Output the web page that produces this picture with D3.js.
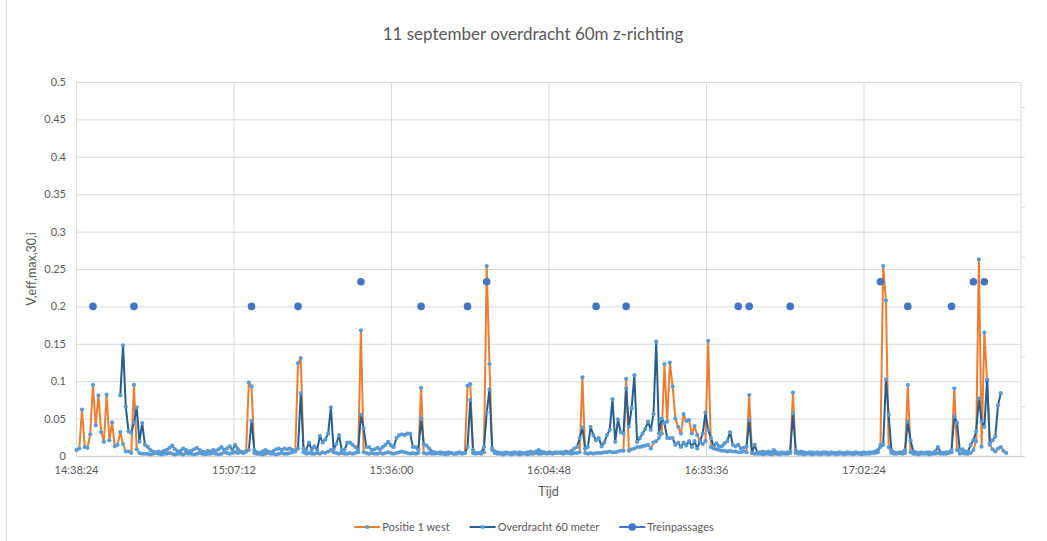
<!DOCTYPE html>
<html>
<head>
<meta charset="utf-8">
<script src="https://cdn.jsdelivr.net/npm/d3@7"></script>
<style>
  html, body { margin: 0; padding: 0; background: #ffffff; }
  svg { display: block; font-family: Lato, "Liberation Sans", sans-serif; }
</style>
</head>
<body>
<svg id="chart" width="1047" height="541"></svg>
<script>
// ---- chart text ----
const chartTitle = "11 september overdracht 60m z-richting";
const yAxisTitle = "V,eff,max,30,i";
const xAxisTitle = "Tijd";
const seriesNames = ["Positie 1 west", "Overdracht 60 meter", "Treinpassages"];

// ---- time base: one sample every 30 seconds ----
const firstSample = "14:38:30";
const sampleSeconds = 30;

// ---- axis ticks ----
const xAxisMin = "14:38:24";
const xAxisMax = "17:31:12";
const xTickLabels = ["14:38:24", "15:07:12", "15:36:00", "16:04:48", "16:33:36", "17:02:24"];
const yTickLabels = ["0", "0.05", "0.1", "0.15", "0.2", "0.25", "0.3", "0.35", "0.4", "0.45", "0.5"];

// ---- Positie 1 west (V,eff,max,30,i per sample) ----
const positie1West = [
  0.008,0.010,0.062,0.012,0.011,0.029,0.095,0.041,0.081,0.032,0.019,0.082,0.021,0.045,0.013,0.015,0.032,0.016,0.006,0.006,0.004,0.095,0.009,0.004,0.003,0.003,
  0.003,0.002,0.003,0.004,0.003,0.002,0.003,0.003,0.004,0.003,0.002,0.003,0.003,0.002,0.004,0.003,0.003,0.002,0.003,0.004,0.003,0.002,0.003,0.003,0.004,0.003,0.002,0.003,0.005,0.004,0.003,0.004,0.005,0.004,0.005,
  0.004,0.006,0.098,0.093,0.004,
  0.003,0.003,0.002,0.003,0.004,0.003,0.003,0.002,0.003,0.004,0.003,0.003,0.004,0.005,0.006,
  0.124,0.131,0.005,
  0.003,0.004,0.003,0.003,0.004,0.003,0.005,0.004,0.006,0.008,0.005,0.004,0.003,0.004,0.003,0.003,0.004,0.003,0.004,0.005,
  0.168,0.005,
  0.004,0.003,0.004,0.003,0.003,0.004,0.003,0.004,0.005,0.004,0.003,0.004,0.005,0.006,0.005,0.004,0.003,0.004,0.003,0.004,
  0.091,0.004,
  0.003,0.004,0.003,0.003,0.004,0.003,0.003,0.002,0.003,0.004,0.003,0.003,0.004,0.003,0.004,
  0.094,0.096,0.004,
  0.003,0.004,0.003,0.005,
  0.254,0.123,0.008,
  0.004,0.003,0.003,0.002,0.003,0.003,0.002,0.003,0.003,0.002,0.003,0.003,0.002,0.003,0.003,0.004,0.003,0.003,0.004,0.003,0.004,0.003,0.004,0.005,0.004,0.003,0.004,0.004,0.003,0.004,
  0.004,0.005,0.105,0.004,
  0.003,0.004,0.003,0.004,0.004,0.004,0.005,0.005,0.006,0.005,0.005,0.006,0.007,
  0.007,0.103,
  0.007,0.009,0.010,0.012,0.012,0.013,0.014,0.015,0.010,0.018,0.020,0.024,0.030,
  0.123,0.046,0.125,0.093,0.050,0.039,0.030,0.056,0.047,0.048,0.030,0.040,0.028,0.020,0.016,0.020,0.154,
  0.012,0.010,0.009,0.008,0.007,0.007,0.006,0.007,0.006,0.006,0.005,0.005,0.006,0.005,
  0.0815,
  0.004,0.003,0.003,0.003,0.002,0.003,0.003,0.002,0.003,0.003,0.002,0.003,0.003,0.003,0.004,
  0.0846,
  0.004,0.003,0.003,0.002,0.003,0.003,0.002,0.003,0.003,0.002,0.003,0.003,0.002,0.003,0.003,0.002,0.003,0.003,0.002,0.003,0.003,0.002,0.003,0.003,0.002,0.003,0.003,0.003,0.004,0.004,0.005,
  0.0147,0.254,0.208,0.012,0.004,
  0.003,0.003,0.004,0.003,0.004,
  0.095,0.005,
  0.003,0.003,0.002,0.003,0.003,0.003,0.002,0.003,0.003,0.004,0.003,0.003,0.003,0.004,0.005,
  0.0905,0.008,
  0.003,0.004,0.003,0.003,0.004,
  0.008,0.020,0.263,0.0125,0.165,0.100,0.015,0.009,0.006,0.010,0.012,0.007,0.004
];

// ---- Overdracht 60 meter (same sample times; null = no measurement) ----
const overdracht60m = [
  null,null,null,null,null,null,null,null,null,null,null,null,null,null,null,null,
  0.081,0.148,0.066,0.033,0.031,0.045,0.065,0.019,0.044,0.015,
  0.0125,0.008,0.006,0.005,0.006,0.005,0.007,0.008,0.011,0.014,0.009,0.006,0.007,0.010,0.008,0.006,0.007,0.009,0.011,0.008,0.006,0.005,0.007,0.006,0.008,0.007,0.009,0.012,0.008,0.010,0.013,0.008,0.015,0.009,0.006,
  0.005,0.006,0.008,0.047,0.008,
  0.005,0.004,0.006,0.008,0.006,0.005,0.007,0.009,0.010,0.008,0.010,0.009,0.010,0.008,0.007,
  0.010,0.084,0.010,0.008,0.018,0.008,0.013,0.008,0.027,0.018,0.022,0.030,0.065,0.009,0.016,0.028,0.008,0.008,0.018,0.018,0.015,0.012,0.008,
  0.055,0.037,0.012,0.012,0.008,0.009,0.011,0.009,0.012,0.015,0.019,0.014,0.012,0.024,0.028,0.029,0.028,0.030,0.030,0.012,0.012,0.008,
  0.0495,0.016,0.014,0.010,0.006,
  0.005,0.004,0.005,0.004,0.004,0.005,0.004,0.003,0.004,0.005,0.004,0.004,
  0.012,0.075,0.008,0.004,0.004,0.005,0.012,0.058,0.089,0.010,0.006,
  0.005,0.004,0.004,0.005,0.004,0.004,0.005,0.004,0.005,0.004,0.004,0.005,0.006,0.005,0.006,0.008,0.006,0.005,0.004,0.005,0.004,0.005,0.004,0.005,0.005,0.006,0.005,0.007,0.010,0.012,
  0.024,0.038,0.010,0.012,0.039,0.028,0.021,0.024,0.013,0.018,0.028,0.035,0.076,0.019,0.049,0.032,0.030,
  0.0905,0.039,0.064,0.108,0.019,0.024,0.030,0.036,0.046,0.035,0.056,0.153,0.030,0.050,0.044,0.024,0.024,0.024,0.015,
  0.018,0.012,0.018,0.014,0.020,0.012,0.020,0.010,0.020,0.030,0.058,0.035,0.024,0.013,0.017,0.013,0.013,0.017,0.020,0.032,
  0.015,0.013,0.015,0.010,0.011,0.013,0.048,0.004,0.015,0.004,
  0.005,0.006,0.005,0.006,0.005,0.008,0.005,0.004,0.005,0.004,0.005,
  0.006,0.057,0.008,
  0.005,0.006,0.005,0.004,0.005,0.005,0.004,0.005,0.004,0.005,0.005,0.004,0.005,0.004,0.004,0.005,0.004,0.004,0.005,0.004,0.004,0.005,0.004,0.004,0.005,0.004,0.005,0.005,0.006,0.008,0.012,
  0.015,0.1025,0.055,0.008,
  0.005,0.004,0.005,0.005,0.008,
  0.046,0.021,0.006,
  0.005,0.004,0.005,0.004,0.005,0.005,0.004,0.006,0.012,0.005,0.004,0.005,0.005,0.008,
  0.0526,0.0446,0.008,0.009,0.006,0.006,0.0147,0.021,0.0325,0.077,0.046,0.039,0.1025,0.017,0.021,0.026,0.068,0.084,
  null,null
];

// ---- Treinpassages ----
const trainTimes = ["14:41:30", "14:49:00", "15:10:30", "15:19:00", "15:30:30", "15:41:30", "15:50:00", "15:53:30", "16:13:30",
                    "16:19:00", "16:39:30", "16:41:30", "16:49:00", "17:05:30", "17:10:30", "17:18:30", "17:22:30", "17:24:30"];
const trainLevels = [0.2, 0.2, 0.2, 0.2, 0.233, 0.2, 0.2, 0.233, 0.2,
                     0.2, 0.2, 0.2, 0.2, 0.233, 0.2, 0.2, 0.233, 0.233];

// ---- colours ----
const colOrange = "#ED7D31";
const colDark = "#255E91";
const colMarker = "#5B9BD5";
const colTrain = "#4472C4";
const colGrid = "#D9D9D9";
const colText = "#595959";

// ---- layout ----
const W = 1047, H = 541;
const plot = { left: 76, right: 1021, top: 82, bottom: 456 };

const svg = d3.select("#chart");
const parseT = d3.timeParse("%H:%M:%S");

const x = d3.scaleTime()
  .domain([parseT(xAxisMin), parseT(xAxisMax)])
  .range([plot.left, plot.right]);
const y = d3.scaleLinear()
  .domain([0, 0.5])
  .range([plot.bottom, plot.top]);
// unlabeled secondary value axis on the right
const y2 = d3.scaleLinear()
  .domain([0, 0.3])
  .range([plot.bottom, plot.top]);

const t0 = parseT(firstSample);
const sampleTime = i => new Date(t0.getTime() + i * sampleSeconds * 1000);

const pData = positie1West.map((v, i) => ({ t: sampleTime(i), v }));
const oData = overdracht60m.map((v, i) => ({ t: sampleTime(i), v }));
const trains = trainTimes.map((s, i) => ({ t: parseT(s), v: trainLevels[i] }));

// chart frame edge on the left
svg.append("line")
  .attr("x1", 6.5).attr("x2", 6.5).attr("y1", 0).attr("y2", H)
  .attr("stroke", colGrid).attr("stroke-width", 1);

// horizontal gridlines
const yTicks = yTickLabels.map(Number);
svg.append("g")
  .attr("transform", `translate(${plot.left},0)`)
  .call(d3.axisLeft(y).tickValues(yTicks.filter(v => v > 0)).tickSize(-(plot.right - plot.left)).tickFormat(""))
  .call(g => g.select(".domain").remove())
  .call(g => g.selectAll(".tick line").attr("stroke", colGrid).attr("stroke-width", 1));

// vertical gridlines
const xTicks = xTickLabels.map(parseT);
svg.append("g")
  .attr("transform", `translate(0,${plot.bottom})`)
  .call(d3.axisBottom(x).tickValues(xTicks.slice(1)).tickSize(-(plot.bottom - plot.top)).tickFormat(""))
  .call(g => g.select(".domain").remove())
  .call(g => g.selectAll(".tick line").attr("stroke", colGrid).attr("stroke-width", 1));

// left value axis (line + labels)
svg.append("g")
  .attr("transform", `translate(${plot.left},0)`)
  .call(d3.axisLeft(y).tickValues(yTicks).tickSize(0).tickPadding(10)
    .tickFormat((d, i) => yTickLabels[i]))
  .call(g => g.select(".domain").attr("stroke", colGrid))
  .call(g => g.selectAll("text").attr("fill", colText).attr("font-size", 11)
    .attr("font-family", "Lato, 'Liberation Sans', sans-serif"));

// secondary axis on the right: line with outside ticks, no labels
svg.append("g")
  .attr("transform", `translate(${plot.right},0)`)
  .call(d3.axisRight(y2).tickValues(d3.range(0, 0.2801, 0.04)).tickSize(4).tickFormat(""))
  .call(g => g.select(".domain").attr("stroke", colGrid).attr("d", `M0,${plot.top}V${plot.bottom}`))
  .call(g => g.selectAll(".tick line").attr("stroke", colGrid));

// time axis
svg.append("g")
  .attr("transform", `translate(0,${plot.bottom})`)
  .call(d3.axisBottom(x).tickValues(xTicks).tickSize(0).tickPadding(10)
    .tickFormat((d, i) => xTickLabels[i]))
  .call(g => g.select(".domain").attr("stroke", colGrid).attr("stroke-width", 1.5))
  .call(g => g.selectAll("text").attr("fill", colText).attr("font-size", 11)
    .attr("font-family", "Lato, 'Liberation Sans', sans-serif"));

// ---- series ----
const line = d3.line()
  .defined(d => d.v != null)
  .x(d => x(d.t))
  .y(d => y(d.v));

function drawSeries(data, colour) {
  const g = svg.append("g");
  g.append("path")
    .datum(data)
    .attr("fill", "none")
    .attr("stroke", colour)
    .attr("stroke-width", 2)
    .attr("stroke-linejoin", "round")
    .attr("d", line);
  g.selectAll("circle")
    .data(data.filter(d => d.v != null))
    .join("circle")
    .attr("cx", d => x(d.t))
    .attr("cy", d => y(d.v))
    .attr("r", 2.1)
    .attr("fill", colMarker);
}
drawSeries(pData, colOrange);
drawSeries(oData, colDark);

svg.append("g")
  .selectAll("circle")
  .data(trains)
  .join("circle")
  .attr("cx", d => x(d.t))
  .attr("cy", d => y(d.v))
  .attr("r", 3.8)
  .attr("fill", colTrain);

// ---- titles ----
svg.append("text")
  .attr("x", 533).attr("y", 40)
  .attr("text-anchor", "middle")
  .attr("font-size", 17)
  .attr("fill", colText)
  .text(chartTitle);

svg.append("text")
  .attr("transform", `translate(36,${(plot.top + plot.bottom) / 2}) rotate(-90)`)
  .attr("text-anchor", "middle")
  .attr("font-size", 12.5)
  .attr("fill", colText)
  .text(yAxisTitle);

svg.append("text")
  .attr("x", (plot.left + plot.right) / 2).attr("y", 496)
  .attr("text-anchor", "middle")
  .attr("font-size", 12.5)
  .attr("fill", colText)
  .text(xAxisTitle);

// ---- legend ----
const legend = svg.append("g").attr("font-size", 11).attr("fill", colText);
const legendKinds = [
  { colour: colOrange, marker: colMarker, r: 2.1 },
  { colour: colDark, marker: colMarker, r: 2.1 },
  { colour: colTrain, marker: colTrain, r: 3.8 }
];
let lx = 0;
const legendY = 527;
seriesNames.forEach((name, i) => {
  const k = legendKinds[i];
  const item = legend.append("g").attr("transform", `translate(${lx},0)`);
  item.append("line").attr("x1", 0).attr("x2", 26).attr("y1", legendY).attr("y2", legendY)
    .attr("stroke", k.colour).attr("stroke-width", 2);
  item.append("circle").attr("cx", 13).attr("cy", legendY).attr("r", k.r).attr("fill", k.marker);
  const txt = item.append("text").attr("x", 28).attr("y", legendY).attr("dy", "0.35em").text(name);
  lx += 28 + txt.node().getComputedTextLength() + 20;
});
const legendWidth = lx - 20;
legend.attr("transform", `translate(${534 - legendWidth / 2},0)`);
</script>
</body>
</html>
